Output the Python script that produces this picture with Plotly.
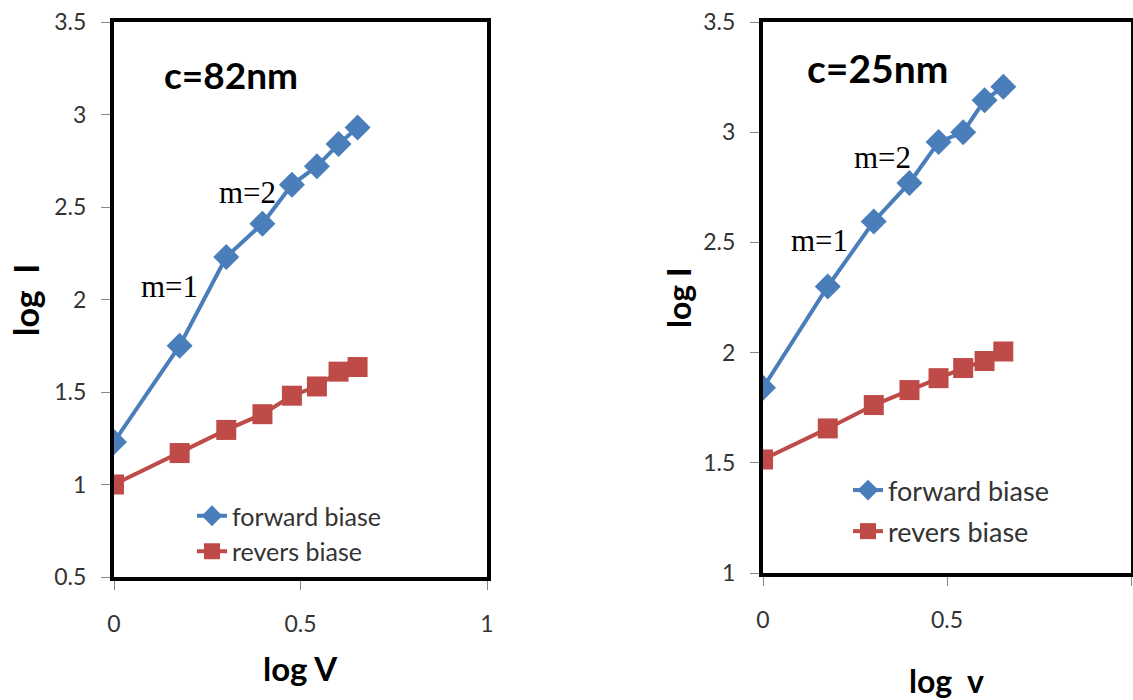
import plotly.graph_objects as go

# ---- data ----
log_v = [0, 0.176, 0.301, 0.398, 0.477, 0.544, 0.602, 0.653]

fwd_82 = [1.23, 1.75, 2.23, 2.41, 2.62, 2.72, 2.84, 2.93]
rev_82 = [1.00, 1.17, 1.295, 1.38, 1.48, 1.53, 1.61, 1.635]

fwd_25 = [1.84, 2.30, 2.595, 2.77, 2.955, 3.00, 3.145, 3.206]
rev_25 = [1.515, 1.656, 1.762, 1.83, 1.884, 1.93, 1.962, 2.005]

x_ticks = [0, 0.5, 1]
y_ticks_82 = [0.5, 1, 1.5, 2, 2.5, 3, 3.5]
y_ticks_25 = [1, 1.5, 2, 2.5, 3, 3.5]

BLUE = "#4A7EBB"
RED = "#BE4B48"
W, H = 1133, 700

fig = go.Figure()

def add_pair(xa, ya, fwd, rev, legend):
    fig.add_trace(go.Scatter(x=log_v, y=fwd, mode="lines+markers", name="forward biase",
                             xaxis=xa, yaxis=ya, legend=legend, legendgroup=legend + "f",
                             line=dict(color=BLUE, width=4),
                             marker=dict(symbol="diamond", size=20, color=BLUE)))
    fig.add_trace(go.Scatter(x=log_v, y=rev, mode="lines+markers", name="revers biase",
                             xaxis=xa, yaxis=ya, legend=legend, legendgroup=legend + "r",
                             line=dict(color=RED, width=4),
                             marker=dict(symbol="square", size=20, color=RED)))

add_pair("x", "y", fwd_82, rev_82, "legend")
add_pair("x2", "y2", fwd_25, rev_25, "legend2")

SANS = "Lato, Open Sans, sans-serif"
SERIF = "Liberation Serif, Times New Roman, serif"

tickfont = dict(family=SANS, size=23, color="#333333")
common_x = dict(range=[0, 1], tickvals=x_ticks, ticktext=["0", "0.5", "1"],
                showgrid=False, zeroline=False, showline=True, linecolor="black",
                linewidth=4, mirror=True, ticks="outside", ticklen=9, tickcolor="#888888",
                tickwidth=1, tickfont=tickfont, ticklabelstandoff=14, automargin=False)
common_y = dict(showgrid=False, zeroline=False, showline=True, linecolor="black",
                linewidth=4, mirror=True, ticks="outside", ticklen=9, tickcolor="#888888",
                tickwidth=1, tickfont=tickfont, ticklabelstandoff=10, automargin=False)

def px(xp):
    return xp / W

def py(yp):
    return 1 - yp / H

fig.update_layout(
    width=W, height=H,
    margin=dict(l=0, r=0, t=0, b=0, autoexpand=False),
    paper_bgcolor="white", plot_bgcolor="white",
    showlegend=True,
    xaxis=dict(domain=[px(114), px(487)], anchor="y", **common_x),
    yaxis=dict(domain=[py(577), py(22)], anchor="x", range=[0.5, 3.5], tickvals=y_ticks_82,
               ticktext=["0.5", "1", "1.5", "2", "2.5", "3", "3.5"], **common_y),
    xaxis2=dict(domain=[px(763), px(1131)], anchor="y2", **common_x),
    yaxis2=dict(domain=[py(573), py(22)], anchor="x2", range=[1, 3.5], tickvals=y_ticks_25,
                ticktext=["1", "1.5", "2", "2.5", "3", "3.5"], **common_y),
    legend=dict(x=px(192), y=py(493), xanchor="left", yanchor="top",
                bgcolor="rgba(0,0,0,0)", tracegroupgap=0,
                font=dict(family=SANS, size=25, color="#333333")),
    legend2=dict(x=px(848), y=py(466), xanchor="left", yanchor="top",
                 bgcolor="rgba(0,0,0,0)", tracegroupgap=3,
                 font=dict(family=SANS, size=27, color="#333333")),
)

def ann(text, x, y, size, family, bold=False, angle=0):
    t = f"<b>{text}</b>" if bold else text
    fig.add_annotation(text=t, x=px(x), y=py(y), xref="paper", yref="paper",
                       showarrow=False, textangle=angle, xanchor="center", yanchor="middle",
                       font=dict(family=family, size=size, color="black"))

ann("c=82nm", 231, 74, 37, SANS, bold=True)
ann("c=25nm", 877, 68, 39, SANS, bold=True)
ann("m=1", 169, 287, 31, SERIF)
ann("m=2", 247, 193, 31, SERIF)
ann("m=1", 819, 240, 31, SERIF)
ann("m=2", 882, 157, 31, SERIF)
ann("log V", 300, 668, 33, SANS, bold=True)
ann("log  v", 946, 680, 32, SANS, bold=True)
ann("log  I", 25, 300, 34, SANS, bold=True, angle=-90)
ann("log I", 678, 298, 32, SANS, bold=True, angle=-90)

fig.write_html("out.html", config={"displayModeBar": False},
               post_script="document.body.style.margin='0';document.body.style.overflow='hidden';")
